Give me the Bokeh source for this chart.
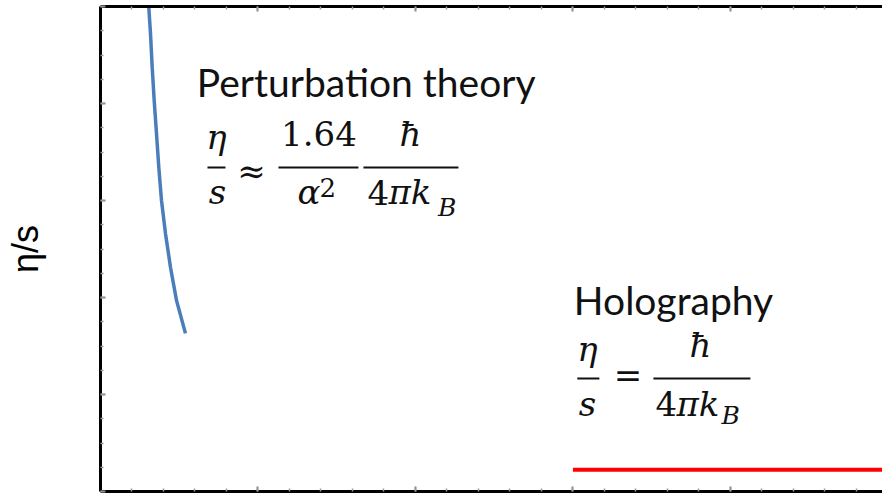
from bokeh.plotting import figure
from bokeh.models import Range1d, FixedTicker, LinearAxis
from bokeh.core.properties import value
from bokeh.embed import file_html
from bokeh.resources import INLINE

# Shear viscosity to entropy ratio, in units of hbar / (4 pi k_B)
pert_x = [1.52, 1.533, 1.587, 1.641, 1.705, 1.778, 1.851, 1.937, 2.063, 2.222, 2.413, 2.698]
pert_y = [20.3, 19.97, 18.89, 17.50, 16.12, 14.76, 13.37, 12.0, 10.64, 9.25, 7.88, 6.52]
holo_x = [15.0, 25.0]
holo_y = [0.9, 0.9]

x_major = [0, 5, 10, 15, 20, 25]
x_minor = list(range(0, 26))
y_major = [0, 4, 8, 12, 16, 20]
y_minor = list(range(0, 21))

MATH_FONT = "DejaVu Serif"
TEXT_FONT = "Lato"

p = figure(width=882, height=493, output_backend="svg", toolbar_location=None,
           x_range=Range1d(0, 24.83), y_range=Range1d(0, 20),
           x_axis_location=None, y_axis_location=None,
           min_border_left=100, min_border_right=0, min_border_top=6,
           min_border_bottom=2)
p.outline_line_color = None
p.xgrid.visible = False
p.ygrid.visible = False
p.background_fill_color = "white"
p.border_fill_color = "white"


def frame_axis(ticks, minor, side, label=None):
    ax = LinearAxis(ticker=FixedTicker(ticks=ticks, minor_ticks=minor))
    ax.axis_line_color = "black"
    ax.axis_line_width = 3
    ax.major_tick_in = 5
    ax.major_tick_out = 0
    ax.minor_tick_in = 3
    ax.minor_tick_out = 0
    ax.major_tick_line_color = "#8a8a8a"
    ax.minor_tick_line_color = "#9a9a9a"
    ax.major_tick_line_width = 2
    ax.minor_tick_line_width = 1.5
    ax.major_label_text_font_size = "0px"
    ax.major_label_standoff = 0
    if label:
        ax.axis_label = label
        ax.axis_label_text_font = "Liberation Sans"
        ax.axis_label_text_font_size = "36px"
        ax.axis_label_text_font_style = "normal"
        ax.axis_label_text_color = "black"
        ax.axis_label_standoff = 55
    p.add_layout(ax, side)
    return ax


frame_axis(y_major, y_minor, "left", label="η/s")
frame_axis(x_major, x_minor, "below")
frame_axis(x_major, x_minor, "above")

p.line(pert_x, pert_y, line_color="#4a7ebb", line_width=3.5)
p.line(holo_x, holo_y, line_color="#ff0000", line_width=4)


def txt(x, y, s, size, font=MATH_FONT, style="italic", align="left"):
    p.text(x=[x], y=[y], text=[s], text_font=value(font), text_font_size=value(size),
           text_font_style=style, text_align=align,
           text_baseline="alphabetic", text_color="#111111")


def bar(x0, x1, y):
    p.segment(x0=[x0], y0=[y], x1=[x1], y1=[y], line_color="#111111", line_width=2)


# Perturbation theory
txt(3.06, 16.90, "Perturbation theory", "39px", font=TEXT_FONT, style="normal")
txt(3.683, 14.62, "η", "34px", align="center")
bar(3.397, 3.968, 13.36)
txt(3.714, 12.35, "s", "34px", align="center")
txt(4.794, 13.22, "≈", "34px", style="normal", align="center")
txt(6.937, 14.75, "1.64", "34px", style="normal", align="center")
bar(5.651, 8.190, 13.36)
txt(6.254, 12.35, "α", "34px")
txt(6.95, 12.55, "2", "26px", style="normal")
bar(8.349, 11.365, 13.36)
txt(9.841, 14.75, "ħ", "34px", align="center")
txt(8.476, 12.35, "4", "34px", style="normal")
txt(9.143, 12.35, "πk", "34px")
txt(10.72, 11.71, "B", "25px")

# Holography
txt(15.03, 7.90, "Holography", "39px", font=TEXT_FONT, style="normal")
txt(15.46, 5.88, "η", "34px", align="center")
bar(15.14, 15.84, 4.66)
txt(15.46, 3.61, "s", "34px", align="center")
txt(16.75, 4.81, "=", "34px", style="normal", align="center")
txt(19.05, 6.05, "ħ", "34px", align="center")
bar(17.556, 20.635, 4.66)
txt(17.619, 3.61, "4", "34px", style="normal")
txt(18.286, 3.61, "πk", "34px")
txt(19.72, 3.13, "B", "25px")

open("out.html", "w").write(file_html(p, INLINE))
